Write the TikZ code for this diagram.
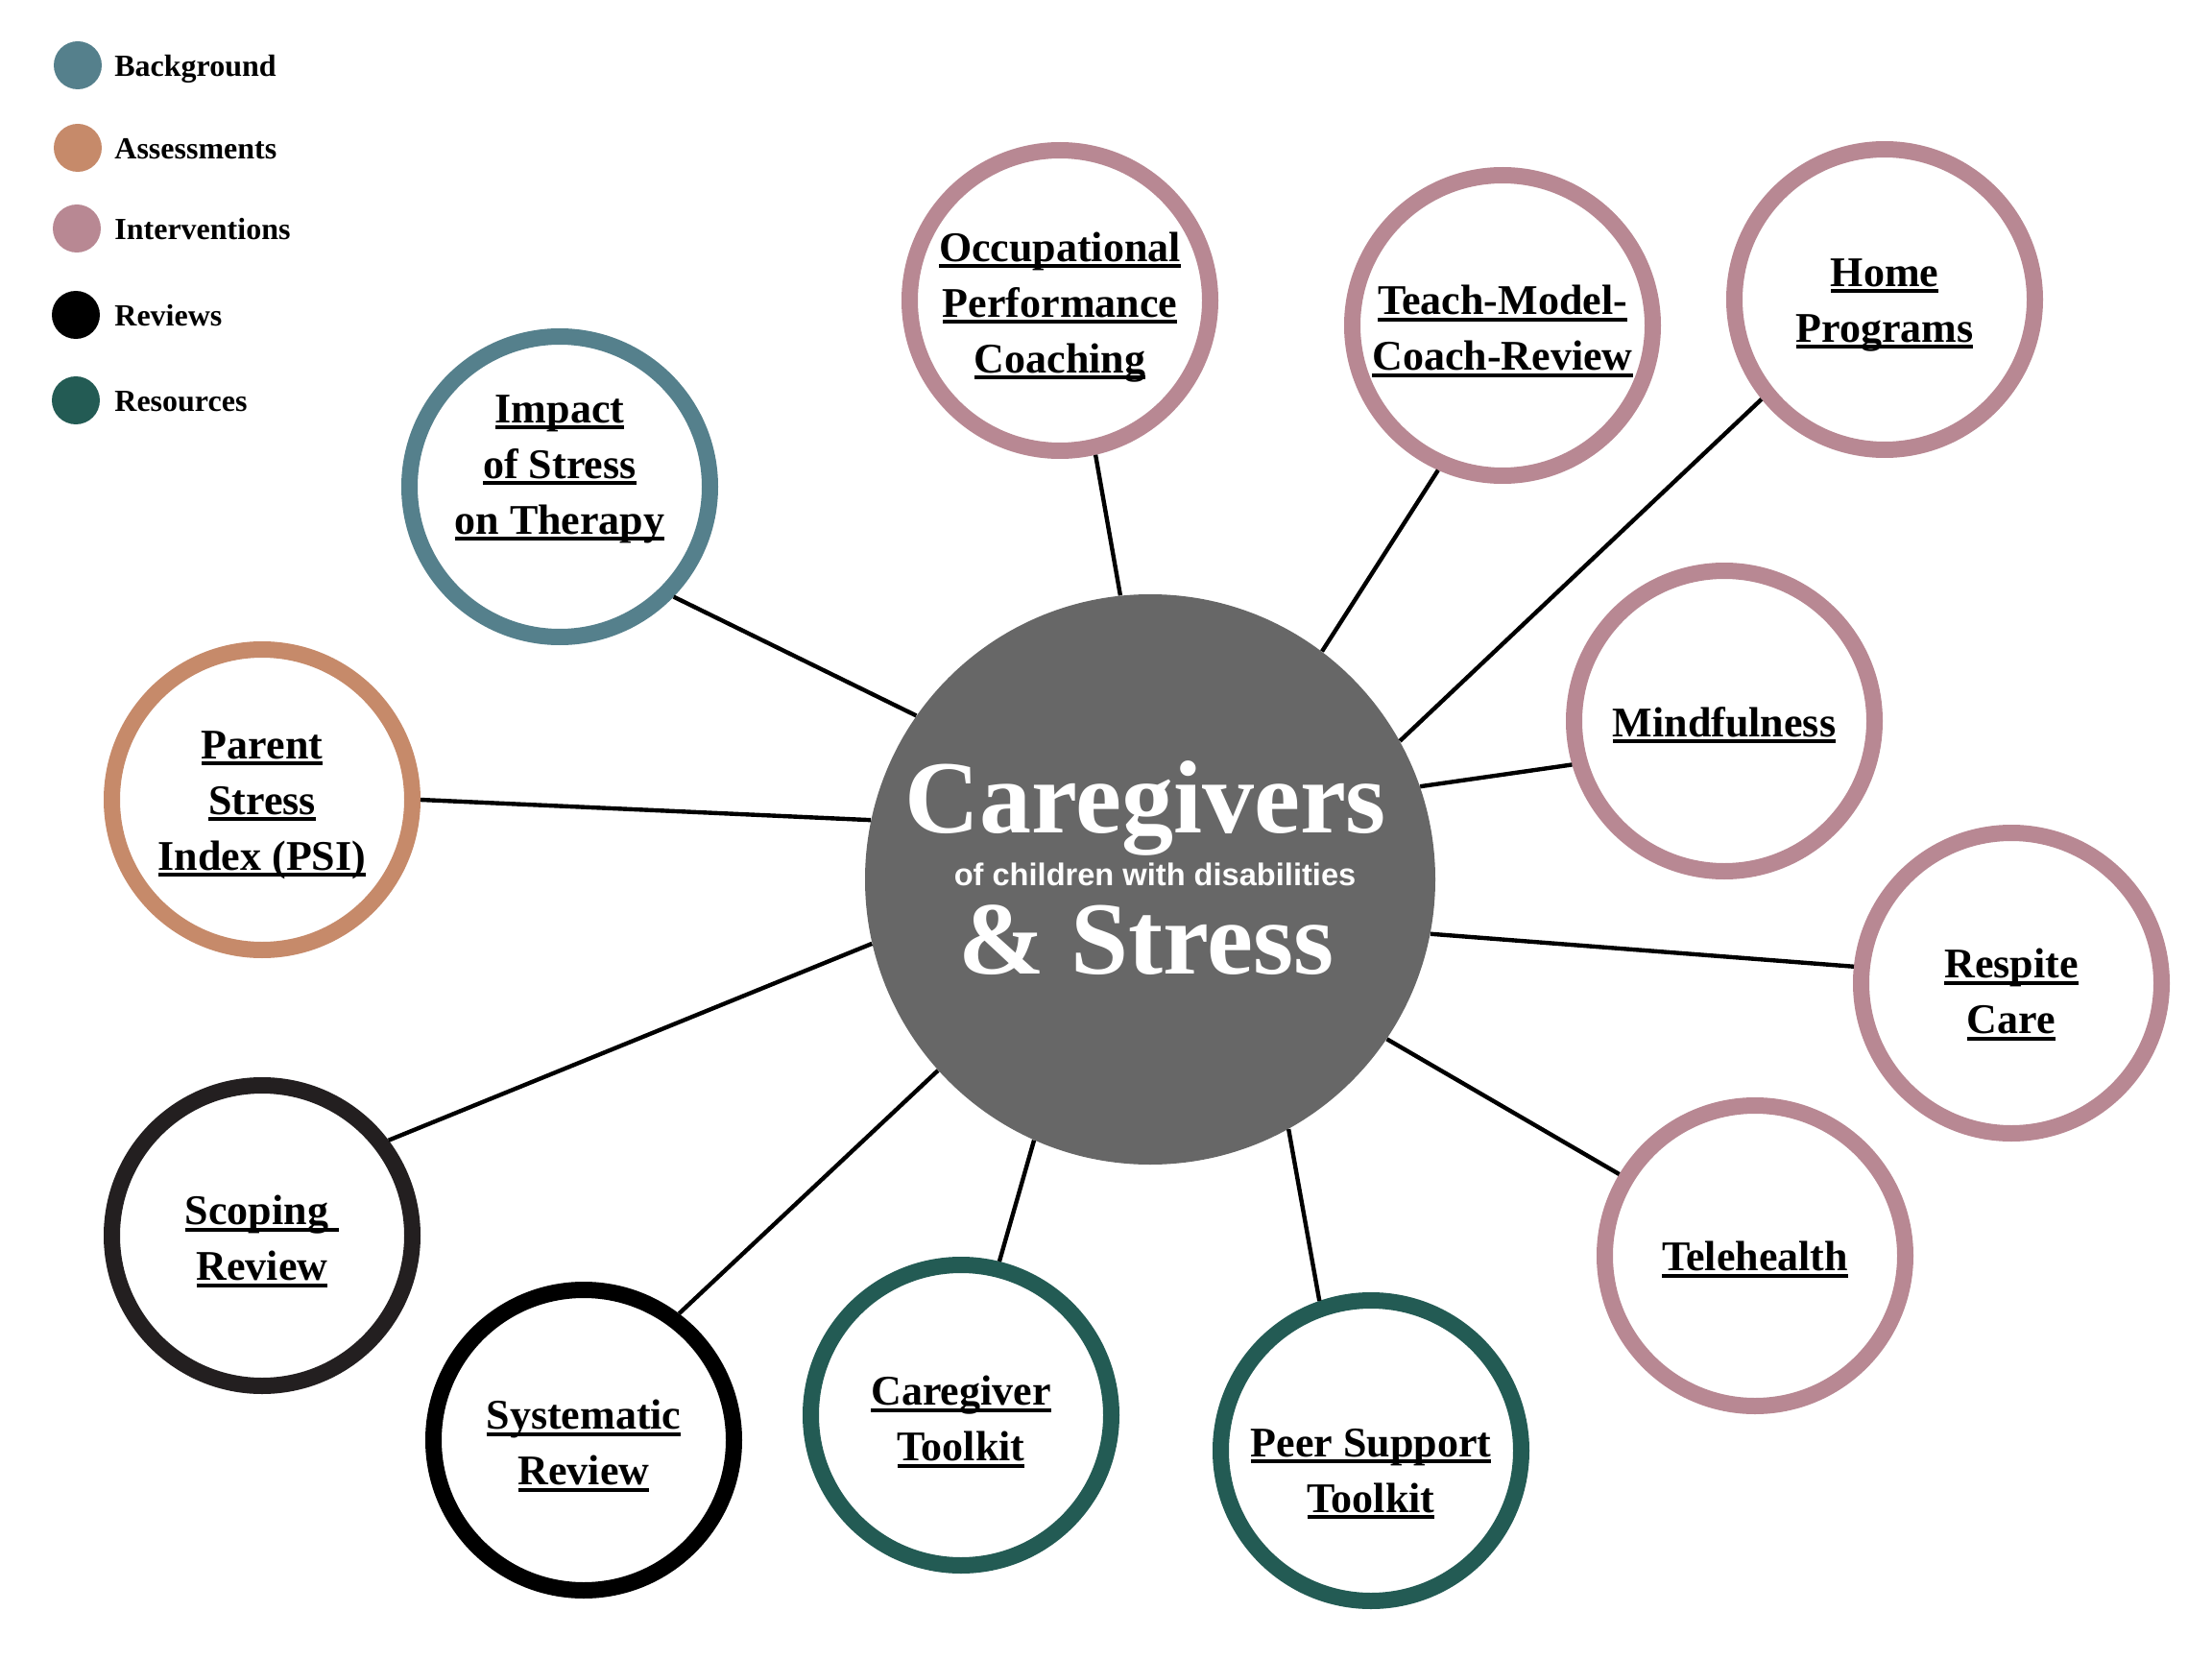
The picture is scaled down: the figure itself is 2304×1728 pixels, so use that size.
\documentclass[tikz,border=0pt]{standalone}
\usepackage{fontspec}
\setmainfont{Liberation Serif}
\newfontfamily\subfont{Liberation Sans}
\definecolor{bgc}{HTML}{55808C}
\definecolor{asc}{HTML}{C68A6A}
\definecolor{inc}{HTML}{B88893}
\definecolor{rvc}{HTML}{000000}
\definecolor{scc}{HTML}{231F20}
\definecolor{rsc}{HTML}{235B54}
\definecolor{hubc}{HTML}{676767}
\newcommand\ulx[1]{\setbox0\hbox{#1}\rlap{\rule[-3.3pt]{\wd0}{2pt}}\box0}
\begin{document}
\begin{tikzpicture}[x=0.5pt,y=-0.5pt,
 ring/.style={circle,draw=#1,line width=8.5pt,minimum size=156.5pt,inner sep=0pt,fill=white},
 lbl/.style={align=center,font=\bfseries\fontsize{22}{29}\selectfont,inner sep=0pt},
 link/.style={line width=2.2pt,black},
 dot/.style={circle,fill=#1,minimum size=25pt,inner sep=0pt},
 legtxt/.style={anchor=base west,font=\bfseries\fontsize{16}{18}\selectfont,inner sep=0pt}]
\useasboundingbox (0,0) rectangle (2304,1728);
% legend
\node[dot=bgc] (d1) at (81,68) {};
\node[dot=asc] (d2) at (81,154) {};
\node[dot=inc] (d3) at (80,238) {};
\node[dot=rvc] (d4) at (79,328) {};
\node[dot=rsc] (d5) at (79,417) {};
\node[legtxt] (l1) at (119,80) {Background};
\node[legtxt] (l2) at (119,166) {Assessments};
\node[legtxt] (l3) at (119,250) {Interventions};
\node[legtxt] (l4) at (119,340) {Reviews};
\node[legtxt] (l5) at (119,429) {Resources};
% hub
\node[circle,fill=hubc,minimum size=297pt,inner sep=0pt] (hub) at (1198,916) {};
% rings
\node[ring=bgc] (impact) at (583,507) {};
\node[ring=inc] (opc) at (1104,313) {};
\node[ring=inc] (teach) at (1565,339) {};
\node[ring=inc] (home) at (1963,312) {};
\node[ring=inc] (mind) at (1796,751) {};
\node[ring=inc] (respite) at (2095,1024) {};
\node[ring=inc] (tele) at (1828,1308) {};
\node[ring=rsc] (peer) at (1428,1511) {};
\node[ring=rsc] (ctk) at (1001,1474) {};
\node[ring=rvc] (sys) at (608,1500) {};
\node[ring=scc] (scop) at (273,1287) {};
\node[ring=asc] (psi) at (273,833) {};
% labels
\node[lbl] (impact-t) at (583,489) {\ulx{Impact}\\\ulx{of Stress}\\\ulx{on Therapy}};
\node[lbl] (opc-t) at (1104,320) {\ulx{Occupational}\\\ulx{Performance}\\\ulx{Coaching}};
\node[lbl] (teach-t) at (1565,345) {\ulx{Teach-Model-}\\\ulx{Coach-Review}};
\node[lbl] (home-t) at (1963,318) {\ulx{Home}\\\ulx{Programs}};
\node[lbl] (mind-t) at (1796,755) {\ulx{Mindfulness}};
\node[lbl] (respite-t) at (2095,1036) {\ulx{Respite}\\\ulx{Care}};
\node[lbl] (tele-t) at (1828,1312) {\ulx{Telehealth}};
\node[lbl] (peer-t) at (1428,1535) {\ulx{Peer Support}\\\ulx{Toolkit}};
\node[lbl] (ctk-t) at (1001,1481) {\ulx{Caregiver}\\\ulx{Toolkit}};
\node[lbl] (sys-t) at (608,1506) {\ulx{Systematic}\\\ulx{Review}};
\node[lbl] (scop-t) at (273,1293) {\ulx{Scoping\ }\\\ulx{Review}};
\node[lbl] (psi-t) at (273,839) {\ulx{Parent}\\\ulx{Stress}\\\ulx{Index (PSI)}};
% connectors
\draw[link] (hub.145.5) -- (impact.-44);
\draw[link] (hub.168.3) -- (psi.0);
\draw[link] (hub.-167.1) -- (scop.37.2);
\draw[link] (hub.-138.6) -- (sys.53.7);
\draw[link] (hub.-114.3) -- (ctk.76.7);
\draw[link] (hub.-61.9) -- (peer.109.7);
\draw[link] (hub.-34.6) -- (tele.149.6);
\draw[link] (hub.-11.7) -- (respite.174.4);
\draw[link] (hub.19.7) -- (mind.-164.7);
\draw[link] (hub.29) -- (home.-141.1);
\draw[link] (hub.53.3) -- (teach.-114.1);
\draw[link] (hub.96.6) -- (opc.-77);
% hub text
\node[anchor=base,font=\bfseries\fontsize{54}{54}\selectfont,text=white,inner sep=0pt] (t1) at (1193,867) {Caregivers};
\node[anchor=base,font=\subfont\bfseries\fontsize{16.3}{18}\selectfont,text=white,inner sep=0pt] (t2) at (1203,922) {of children with disabilities};
\node[anchor=base,font=\bfseries\fontsize{54}{54}\selectfont,text=white,inner sep=0pt] (t3) at (1194,1014) {\& Stress};
\end{tikzpicture}
\end{document}
